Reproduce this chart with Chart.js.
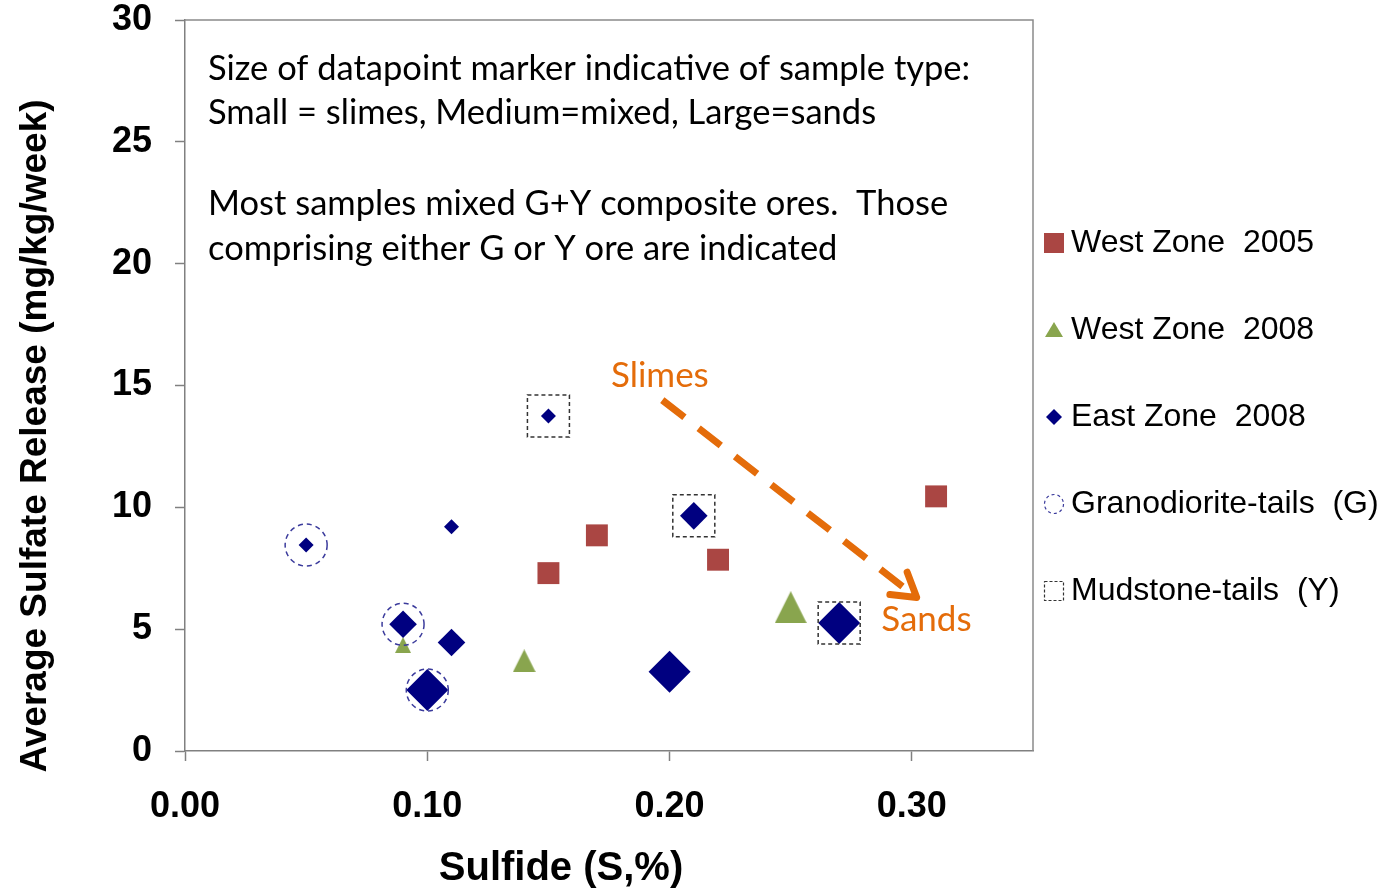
<!DOCTYPE html>
<html>
<head>
<meta charset="utf-8">
<title>Sulfate release vs sulfide</title>
<script src="https://cdn.jsdelivr.net/npm/chart.js@4.4.1/dist/chart.umd.min.js"></script>
<style>
  html, body { margin: 0; padding: 0; background: #fff; }
  #chart { display: block; }
</style>
</head>
<body>
<canvas id="chart" width="1382" height="893"></canvas>
<script>
// West Zone 2005
var west2005Sulfide = [0.15, 0.17, 0.22, 0.31];
var west2005Release = [7.3, 8.85, 7.85, 10.45];

// West Zone 2008
var west2008Sulfide = [0.09, 0.14, 0.25];
var west2008Release = [4.35, 3.7, 5.9];
var west2008Type = ['slimes', 'mixed', 'sands'];

// East Zone 2008
var east2008Sulfide = [0.05, 0.11, 0.15, 0.09, 0.11, 0.21, 0.10, 0.20, 0.27];
var east2008Release = [8.45, 9.2, 13.75, 5.2, 4.45, 9.65, 2.5, 3.25, 5.25];
var east2008Type = ['slimes', 'slimes', 'slimes', 'mixed', 'mixed', 'mixed', 'sands', 'sands', 'sands'];

// samples made of one ore only
var granoSulfide = [0.05, 0.09, 0.10];
var granoRelease = [8.45, 5.2, 2.5];
var mudSulfide = [0.15, 0.21, 0.27];
var mudRelease = [13.75, 9.65, 5.25];

var xTickValues = [0, 0.1, 0.2, 0.3];
var yTickValues = [0, 5, 10, 15, 20, 25, 30];

var seriesNames = ['West Zone  2005', 'West Zone  2008', 'East Zone  2008', 'Granodiorite-tails  (G)', 'Mudstone-tails  (Y)'];
var xTitle = 'Sulfide (S,%)';
var yTitle = 'Average Sulfate Release (mg/kg/week)';
var noteLines = [
  'Size of datapoint marker indicative of sample type:',
  'Small = slimes, Medium=mixed, Large=sands',
  'Most samples mixed G+Y composite ores.  Those',
  'comprising either G or Y ore are indicated'
];

var RED = '#AA4643', GREEN = '#89A54E', NAVY = '#000080', ORANGE = '#E46C0A';
var ARIAL = '"Liberation Sans", Arial, sans-serif';

var diamondSize = { slimes: 7.5, mixed: 13.8, sands: 21 };
var triangleSize = { slimes: 16, mixed: 23, sands: 32 };

function pts(xs, ys) {
  return xs.map(function (x, i) { return { x: x, y: ys[i] }; });
}

function triangleMarker(w, color) {
  var c = document.createElement('canvas');
  c.width = w; c.height = w;
  var g = c.getContext('2d');
  g.fillStyle = color;
  g.beginPath();
  g.moveTo(w / 2, 0); g.lineTo(w, w); g.lineTo(0, w);
  g.closePath();
  g.fill();
  return c;
}

function xy(chart, p) {
  return [chart.scales.x.getPixelForValue(p[0]), chart.scales.y.getPixelForValue(p[1])];
}

var extras = {
  id: 'extras',
  beforeDatasetDraw: function (chart, args) {
    var ds = chart.data.datasets[args.index];
    chart.ctx.save();
    if (ds.markerDash) chart.ctx.setLineDash(ds.markerDash);
  },
  afterDatasetDraw: function (chart) {
    chart.ctx.restore();
  },
  afterDraw: function (chart) {
    var ctx = chart.ctx, a = chart.chartArea;
    ctx.save();

    // top and right side of the plot box
    ctx.strokeStyle = '#8a8a8a';
    ctx.lineWidth = 1.5;
    ctx.beginPath();
    ctx.moveTo(a.left, a.top); ctx.lineTo(a.right, a.top); ctx.lineTo(a.right, a.bottom);
    ctx.stroke();

    // axis titles
    ctx.fillStyle = '#000';
    ctx.textAlign = 'center';
    ctx.textBaseline = 'middle';
    ctx.font = 'bold 40px ' + ARIAL;
    ctx.fillText(xTitle, 561, 869);
    ctx.save();
    ctx.translate(36, 436);
    ctx.rotate(-Math.PI / 2);
    ctx.font = 'bold 37px ' + ARIAL;
    ctx.fillText(yTitle, 0, 0);
    ctx.restore();

    // note text
    ctx.textAlign = 'left';
    ctx.font = '34.5px Lato, "Open Sans", sans-serif';
    var noteY = [69, 113, 204, 249];
    noteLines.forEach(function (t, i) { ctx.fillText(t, a.left + 23, noteY[i]); });

    // slimes -> sands arrow
    var p0 = xy(chart, [0.197, 14.4]), p1 = xy(chart, [0.302, 6.3]);
    ctx.strokeStyle = ORANGE;
    ctx.lineWidth = 7;
    ctx.setLineDash([28, 18]);
    ctx.beginPath();
    ctx.moveTo(p0[0], p0[1]); ctx.lineTo(p1[0], p1[1]);
    ctx.stroke();
    ctx.setLineDash([]);
    var ang = Math.atan2(p1[1] - p0[1], p1[0] - p0[0]);
    ctx.lineCap = 'round';
    ctx.lineJoin = 'round';
    ctx.beginPath();
    ctx.moveTo(p1[0] - 27 * Math.cos(ang - 0.55), p1[1] - 27 * Math.sin(ang - 0.55));
    ctx.lineTo(p1[0], p1[1]);
    ctx.lineTo(p1[0] - 27 * Math.cos(ang + 0.55), p1[1] - 27 * Math.sin(ang + 0.55));
    ctx.stroke();
    ctx.lineCap = 'butt';

    ctx.fillStyle = ORANGE;
    ctx.textAlign = 'center';
    ctx.font = '35px Lato, "Open Sans", sans-serif';
    var s = xy(chart, [0.196, 15.4]), d = xy(chart, [0.306, 5.4]);
    ctx.fillText('Slimes', s[0], s[1]);
    ctx.fillText('Sands', d[0], d[1]);

    // legend
    var lx = 1054, ly = 243, step = 87;
    ctx.font = '32px ' + ARIAL;
    ctx.textAlign = 'left';
    ctx.fillStyle = '#000';
    seriesNames.forEach(function (name, i) {
      var y = ly + i * step;
      ctx.save();
      if (i === 0) {
        ctx.fillStyle = RED; ctx.fillRect(lx - 10, y - 10, 20, 20);
      } else if (i === 1) {
        ctx.fillStyle = GREEN;
        ctx.beginPath(); ctx.moveTo(lx, y - 8); ctx.lineTo(lx + 9, y + 7); ctx.lineTo(lx - 9, y + 7); ctx.closePath(); ctx.fill();
      } else if (i === 2) {
        ctx.fillStyle = NAVY;
        ctx.beginPath(); ctx.moveTo(lx, y - 8); ctx.lineTo(lx + 8, y); ctx.lineTo(lx, y + 8); ctx.lineTo(lx - 8, y); ctx.closePath(); ctx.fill();
      } else if (i === 3) {
        ctx.strokeStyle = '#3b3b9c'; ctx.lineWidth = 1.2; ctx.setLineDash([3, 3]);
        ctx.beginPath(); ctx.arc(lx, y, 9.5, 0, Math.PI * 2); ctx.stroke();
      } else {
        ctx.strokeStyle = '#333'; ctx.lineWidth = 1.2; ctx.setLineDash([3, 2]);
        ctx.strokeRect(lx - 9.5, y - 9.5, 19, 19);
      }
      ctx.restore();
      ctx.fillText(name, 1071, y);
    });

    ctx.restore();
  }
};

var axisFont = { family: ARIAL, size: 36, weight: 'bold' };

new Chart(document.getElementById('chart'), {
  type: 'scatter',
  data: {
    datasets: [
      {
        label: seriesNames[3],
        data: pts(granoSulfide, granoRelease),
        pointStyle: 'circle',
        pointRadius: 21,
        backgroundColor: 'rgba(0,0,0,0)',
        borderColor: '#3b3b9c',
        borderWidth: 1.5,
        markerDash: [5, 4],
        order: 0
      },
      {
        label: seriesNames[4],
        data: pts(mudSulfide, mudRelease),
        pointStyle: 'rect',
        pointRadius: 29.7,
        backgroundColor: 'rgba(0,0,0,0)',
        borderColor: '#333',
        borderWidth: 1.5,
        markerDash: [4, 3],
        order: 0
      },
      {
        label: seriesNames[2],
        data: pts(east2008Sulfide, east2008Release),
        pointStyle: 'rectRot',
        pointRadius: east2008Type.map(function (t) { return diamondSize[t]; }),
        backgroundColor: NAVY,
        borderWidth: 0,
        order: 1
      },
      {
        label: seriesNames[1],
        data: pts(west2008Sulfide, west2008Release),
        pointStyle: west2008Type.map(function (t) { return triangleMarker(triangleSize[t], GREEN); }),
        pointRadius: west2008Type.map(function (t) { return triangleSize[t] / 2; }),
        backgroundColor: GREEN,
        borderWidth: 0,
        order: 2
      },
      {
        label: seriesNames[0],
        data: pts(west2005Sulfide, west2005Release),
        pointStyle: 'rect',
        pointRadius: 15.5,
        backgroundColor: RED,
        borderWidth: 0,
        order: 3
      }
    ]
  },
  options: {
    responsive: false,
    animation: false,
    events: [],
    layout: { autoPadding: false, padding: { left: 0, top: 20, right: 349, bottom: 0 } },
    plugins: { legend: { display: false }, tooltip: { enabled: false } },
    scales: {
      x: {
        type: 'linear',
        min: 0,
        max: 0.35,
        afterFit: function (s) { s.height = 142; s.paddingLeft = 0; s.paddingRight = 0; },
        afterBuildTicks: function (s) { s.ticks = xTickValues.map(function (v) { return { value: v }; }); },
        ticks: {
          font: axisFont,
          color: '#000',
          padding: 24,
          callback: function (v) { return Number(v).toFixed(2); }
        },
        grid: { drawOnChartArea: false, drawTicks: true, tickLength: 10, tickColor: '#808080', tickWidth: 1.5 },
        border: { display: true, color: '#808080', width: 1.5 }
      },
      y: {
        type: 'linear',
        min: 0,
        max: 30,
        afterFit: function (s) { s.width = 185; s.paddingTop = 0; s.paddingBottom = 0; },
        afterBuildTicks: function (s) { s.ticks = yTickValues.map(function (v) { return { value: v }; }); },
        ticks: { font: axisFont, color: '#000', padding: 23 },
        grid: { drawOnChartArea: false, drawTicks: true, tickLength: 10, tickColor: '#808080', tickWidth: 1.5 },
        border: { display: true, color: '#808080', width: 1.5 }
      }
    }
  },
  plugins: [extras]
});
</script>
</body>
</html>
